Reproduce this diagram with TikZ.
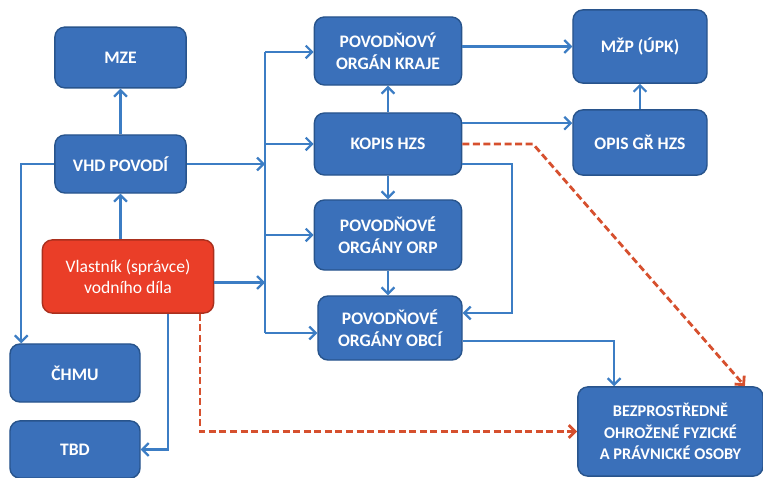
\documentclass[tikz,border=0pt]{standalone}
\usepackage{fontspec}
\setmainfont{Carlito}
\usepackage{tikz}
\usepackage{xcolor}
\usetikzlibrary{arrows.meta}

\definecolor{boxblue}{RGB}{58,112,186}
\definecolor{boxedge}{RGB}{40,84,140}
\definecolor{lineblue}{RGB}{60,125,196}
\definecolor{boxred}{RGB}{234,62,40}
\definecolor{rededge}{RGB}{170,48,30}
\definecolor{dashred}{RGB}{214,80,46}

\begin{document}
\begin{tikzpicture}[x=0.025cm,y=-0.025cm,
                box/.style={draw=boxedge, line width=1pt, fill=boxblue, rounded corners=0.25cm,
                    text=white, align=center, inner sep=0pt, font=\fontsize{12.5}{15.4}\selectfont\bfseries},
                redbox/.style={box, draw=rededge, fill=boxred, font=\fontsize{12.5}{15.4}\selectfont},
                arr/.style={draw=lineblue, line width=1.6pt, -{Straight Barb[length=1.6mm,width=3.2mm]}},
                warn/.style={draw=dashred, line width=2pt, dash pattern=on 5pt off 2.5pt,
                    -{Straight Barb[length=1.6mm,width=3.2mm]}}]
                \useasboundingbox (0,0) rectangle (763,478);
                % left column
                \node[box, minimum width=3.28cm, minimum height=1.52cm] (mze) at (120.5,57.5) {MZE};
                \node[box, minimum width=3.28cm, minimum height=1.45cm] (vhd) at (120.5,164) {VHD POVODÍ};
                \node[redbox, minimum width=4.28cm, minimum height=1.83cm] (vlastnik) at (128,276.5) {Vlastník (správce)\\vodního díla};
                \node[box, minimum width=3.25cm, minimum height=1.45cm] (chmu) at (75,373) {ČHMU};
                \node[box, minimum width=3.25cm, minimum height=1.43cm] (tbd) at (75,449.5) {TBD};
                % middle column
                \node[box, minimum width=3.68cm, minimum height=1.70cm] (kraje) at (388,51) {POVODŇOVÝ\\ORGÁN KRAJE};
                \node[box, minimum width=3.68cm, minimum height=1.55cm] (kopis) at (388,144) {KOPIS HZS};
                \node[box, minimum width=3.68cm, minimum height=1.75cm] (orp) at (388,235) {POVODŇOVÉ\\ORGÁNY ORP};
                \node[box, minimum width=3.60cm, minimum height=1.60cm] (obce) at (390,328) {POVODŇOVÉ\\ORGÁNY OBCÍ};
                % right column
                \node[box, minimum width=3.35cm, minimum height=1.83cm] (mzp) at (640,46.5) {MŽP (ÚPK)};
                \node[box, minimum width=3.35cm, minimum height=1.63cm] (opis) at (640,142.5) {OPIS GŘ HZS};
                \node[box, minimum width=4.63cm, minimum height=2.23cm, font=\fontsize{11.6}{15.4}\selectfont\bfseries] (osoby) at (670.5,431.5) {BEZPROSTŘEDNĚ\\OHROŽENÉ FYZICKÉ\\A PRÁVNICKÉ OSOBY};
                % distribution line
                \coordinate (bus) at (265,52);
                \coordinate (busEnd) at (265,333);
                \draw[draw=lineblue, line width=1.6pt] (bus) -- (busEnd);
                \draw[arr] (bus) -- (bus -| kraje.west);
                \draw[arr] (bus |- kopis.west) -- (kopis.west);
                \draw[arr] (bus |- orp.west) -- (orp.west);
                \draw[arr] (busEnd) -- (busEnd -| obce.west);
                \draw[arr] (vhd.east) -- (vhd.east -| bus);
                \draw[arr] ([yshift=-0.15cm]vlastnik.east) -- ([yshift=-0.15cm]vlastnik.east -| bus);
                % left side
                \draw[arr] (vhd.north) -- (mze.south);
                \draw[arr] (vlastnik.north -| vhd.south) -- (vhd.south);
                \draw[arr] (vhd.west) -| ([xshift=0.3cm]chmu.north west);
                \draw[arr] ([xshift=1cm]vlastnik.south) |- (tbd.east);
                \draw[warn] ([xshift=1.8cm]vlastnik.south) |- (osoby.west);
                % middle and right
                \draw[arr] (kopis.north) -- (kraje.south);
                \draw[arr] (kopis.south) -- (orp.north);
                \draw[arr] (orp.south) -- (orp.south |- obce.north);
                \draw[arr] (kraje.east |- mzp.west) -- (mzp.west);
                \draw[arr] ([yshift=0.52cm]kopis.east) -- ([yshift=0.52cm]kopis.east -| opis.west);
                \draw[arr] (opis.north) -- (mzp.south);
                \coordinate (kBend) at (512,313);
                \draw[arr] ([yshift=-0.5cm]kopis.east) -| (kBend) -- (kBend -| obce.east);
                \draw[arr] ([yshift=-0.33cm]obce.east) -| ([xshift=-1.41cm]osoby.north);
                \coordinate (dBend) at (533,144);
                \draw[warn] (kopis.east) -- (dBend) -- ([xshift=1.86cm]osoby.north);
            \end{tikzpicture}
\end{document}
